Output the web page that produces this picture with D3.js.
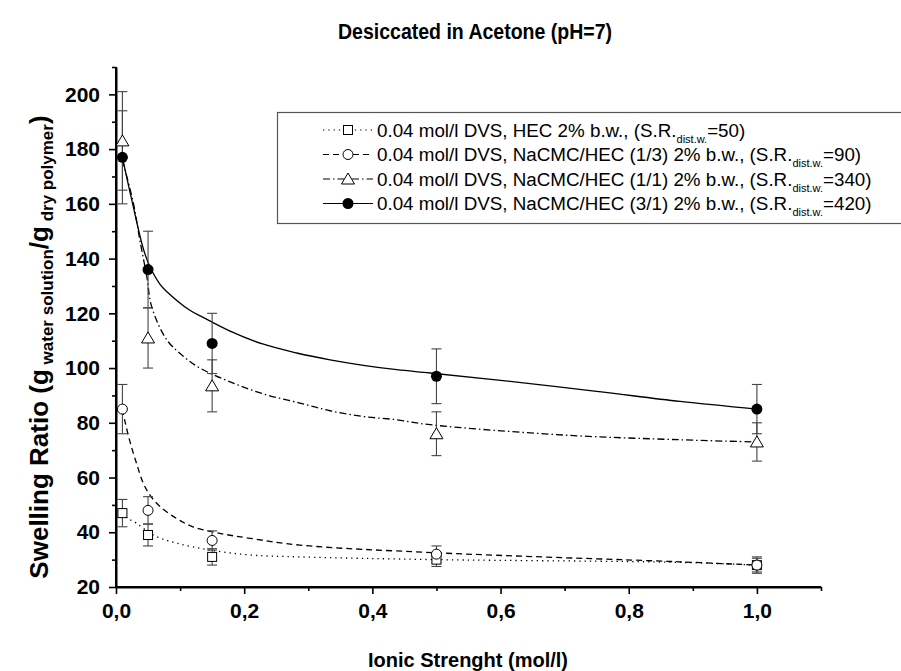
<!DOCTYPE html>
<html><head><meta charset="utf-8">
<script src="https://cdn.jsdelivr.net/npm/d3@7"></script>
<style>
body{margin:0;background:#fff}
svg{display:block}
text{font-family:"Liberation Sans",Arial,sans-serif}
</style>
</head><body>
<svg id="chart" width="901" height="671"></svg>
<script>
// ---- data ----
const ionicStrength = [0.01, 0.05, 0.15, 0.5, 1.0];
const hecValues   = [47, 39, 31, 30, 28];
const hecErrors   = [5, 4, 3, 2.5, 2.5];
const c13Values   = [85, 48, 37, 32, 28];
const c13Errors   = [9, 5, 3.5, 3, 3];
const c11Values   = [183, 111, 93.5, 76, 73];
const c11Errors   = [18, 11, 9.5, 8, 7];
const c31Values   = [177, 136, 109, 97, 85];
const c31Errors   = [17, 14, 11, 10, 9];

// fitted curves
const fitHecX = [0.01, 0.019, 0.032, 0.058, 0.0946, 0.147, 0.209, 0.287, 0.5, 0.88, 1.0];
const fitHecY = [47, 45, 43.3, 39, 36, 33.5, 31.7, 31, 30, 29, 28];
const fitC13X = [0.01, 0.014, 0.0218, 0.032, 0.0426, 0.053, 0.0686, 0.0946, 0.12, 0.162, 0.209, 0.287, 0.5, 0.88, 1.0];
const fitC13Y = [85, 80.5, 73.1, 65.2, 57.9, 53.6, 49.4, 45, 42, 39.6, 37.8, 35.3, 32.5, 29.2, 28];
const fitC11X = [0.01, 0.027, 0.037, 0.048, 0.0556, 0.079, 0.105, 0.131, 0.183, 0.235, 0.287, 0.334, 0.386, 0.438, 0.49, 0.7, 0.88, 1.0];
const fitC11Y = [176, 160.4, 147, 133.5, 122.5, 110.4, 104.3, 100, 94.5, 90.2, 87.2, 84.4, 82.3, 81.1, 79.3, 75.5, 73.8, 73];
const fitC31X = [0.01, 0.0244, 0.043, 0.053, 0.069, 0.079, 0.114, 0.136, 0.178, 0.23, 0.282, 0.334, 0.386, 0.438, 0.49, 0.6, 0.75, 0.88, 1.0];
const fitC31Y = [177, 161.6, 143.3, 137, 130.5, 128, 121.3, 118.5, 113.5, 108.7, 105.5, 103, 101, 99.4, 98.2, 95.5, 91.5, 87.8, 85];

const xTicks = [0, 0.2, 0.4, 0.6, 0.8, 1.0];
const xMinorTicks = [0.1, 0.3, 0.5, 0.7, 0.9, 1.1];
const yTicks = [20, 40, 60, 80, 100, 120, 140, 160, 180, 200];
const yMinorTicks = [30, 50, 70, 90, 110, 130, 150, 170, 190, 210];

const seriesNames = [
  "0.04 mol/l DVS, HEC 2% b.w., (S.R.",
  "0.04 mol/l DVS, NaCMC/HEC (1/3) 2% b.w., (S.R.",
  "0.04 mol/l DVS, NaCMC/HEC (1/1) 2% b.w., (S.R.",
  "0.04 mol/l DVS, NaCMC/HEC (3/1) 2% b.w., (S.R."
];
const seriesSR = ["=50)", "=90)", "=340)", "=420)"];

// ---- setup ----
const svg = d3.select("#chart");
const x = d3.scaleLinear().domain([0, 1.1]).range([116, 821]);
const y = d3.scaleLinear().domain([20, 210]).range([587, 67]);

const series = [
  {vals: hecValues, errs: hecErrors, fx: fitHecX, fy: fitHecY, dash: "1.3,4", marker: "square"},
  {vals: c13Values, errs: c13Errors, fx: fitC13X, fy: fitC13Y, dash: "6,4", marker: "circle"},
  {vals: c11Values, errs: c11Errors, fx: fitC11X, fy: fitC11Y, dash: "7,3,1.5,3", marker: "triangle"},
  {vals: c31Values, errs: c31Errors, fx: fitC31X, fy: fitC31Y, dash: null, marker: "filled"}
];

// title
svg.append("text").attr("x", 475).attr("y", 39).attr("text-anchor", "middle")
  .attr("textLength", 274).attr("lengthAdjust", "spacingAndGlyphs")
  .style("font-weight", "bold").style("font-size", "22px").text("Desiccated in Acetone (pH=7)");

// axes
const gx = svg.append("g").attr("transform", "translate(0,587)")
  .call(d3.axisBottom(x).tickValues(xTicks).tickSize(7).tickPadding(9).tickSizeOuter(0)
    .tickFormat(d => d3.format(".1f")(d).replace(".", ",")));
const gxm = svg.append("g").attr("transform", "translate(0,587)")
  .call(d3.axisBottom(x).tickValues(xMinorTicks).tickSize(4).tickFormat("").tickSizeOuter(0));
const gy = svg.append("g").attr("transform", "translate(116,0)")
  .call(d3.axisLeft(y).tickValues(yTicks).tickSize(7).tickPadding(9).tickSizeOuter(0));
const gym = svg.append("g").attr("transform", "translate(116,0)")
  .call(d3.axisLeft(y).tickValues(yMinorTicks).tickSize(4).tickFormat("").tickSizeOuter(0));
[gx, gxm, gy, gym].forEach(g => {
  g.selectAll(".domain").attr("stroke", "#000").attr("stroke-width", 2);
  g.selectAll(".tick line").attr("stroke", "#000").attr("stroke-width", 1.6);
  g.selectAll("text").style("font-size", "21px").style("font-weight", "bold")
    .style("font-family", "'Liberation Sans',Arial,sans-serif").attr("fill", "#000");
});
gx.select(".domain").attr("d", `M${x(0)},0H${x(1.1)}`);
gy.select(".domain").attr("d", `M0,${y(20)}V${y(210)}`);

// axis titles
svg.append("text").attr("x", 468).attr("y", 667).attr("text-anchor", "middle")
  .style("font-weight", "bold").style("font-size", "20px").text("Ionic Strenght (mol/l)");
const yl = svg.append("text").attr("transform", "translate(48,347) rotate(-90)")
  .attr("text-anchor", "middle").style("font-weight", "bold").style("font-size", "26px");
yl.append("tspan").text("Swelling Ratio (g");
yl.append("tspan").attr("dy", 5).style("font-size", "17px").text(" water solution");
yl.append("tspan").attr("dy", -5).text("/g");
yl.append("tspan").attr("dy", 5).style("font-size", "17px").text(" dry polymer");
yl.append("tspan").attr("dy", -5).text(")");

// fitted lines
const line = d3.line().x(d => x(d[0])).y(d => y(d[1])).curve(d3.curveCatmullRom.alpha(0.5));
series.forEach(s => {
  svg.append("path").datum(s.fx.map((v, i) => [v, s.fy[i]]))
    .attr("d", line).attr("fill", "none").attr("stroke", "#000").attr("stroke-width", 1.3)
    .attr("stroke-dasharray", s.dash);
});

// error bars
series.forEach(s => {
  const g = svg.append("g").attr("stroke", "#444").attr("stroke-width", 1.1);
  ionicStrength.forEach((xv, i) => {
    const cx = x(xv), y1 = y(s.vals[i] + s.errs[i]), y2 = y(s.vals[i] - s.errs[i]);
    g.append("line").attr("x1", cx).attr("x2", cx).attr("y1", y1).attr("y2", y2);
    g.append("line").attr("x1", cx - 5).attr("x2", cx + 5).attr("y1", y1).attr("y2", y1);
    g.append("line").attr("x1", cx - 5).attr("x2", cx + 5).attr("y1", y2).attr("y2", y2);
  });
});

function drawMarker(g, type, cx, cy) {
  if (type === "square") {
    g.append("rect").attr("x", cx - 4.5).attr("y", cy - 4.5).attr("width", 9).attr("height", 9)
      .attr("fill", "#fff").attr("stroke", "#000").attr("stroke-width", 1);
  } else if (type === "circle") {
    g.append("circle").attr("cx", cx).attr("cy", cy).attr("r", 5)
      .attr("fill", "#fff").attr("stroke", "#000").attr("stroke-width", 1);
  } else if (type === "triangle") {
    g.append("path").attr("d", `M${cx},${cy - 6}L${cx + 6.5},${cy + 5}L${cx - 6.5},${cy + 5}Z`)
      .attr("fill", "#fff").attr("stroke", "#000").attr("stroke-width", 1);
  } else {
    g.append("circle").attr("cx", cx).attr("cy", cy).attr("r", 5.5).attr("fill", "#000");
  }
}
series.forEach(s => {
  const g = svg.append("g");
  ionicStrength.forEach((xv, i) => drawMarker(g, s.marker, x(xv), y(s.vals[i])));
});

// legend
const lg = svg.append("g");
lg.append("rect").attr("x", 277.5).attr("y", 112.5).attr("width", 640).attr("height", 111)
  .attr("fill", "#fff").attr("stroke", "#555").attr("stroke-width", 1.2);
series.forEach((s, i) => {
  const ly = 130 + i * 24.5;
  lg.append("line").attr("x1", 323).attr("x2", 373).attr("y1", ly).attr("y2", ly)
    .attr("stroke", "#000").attr("stroke-width", 1.2).attr("stroke-dasharray", s.dash);
  drawMarker(lg, s.marker, 348, ly);
  const t = lg.append("text").attr("x", 377).attr("y", ly + 6.5).style("font-size", "18.8px");
  t.append("tspan").text(seriesNames[i]);
  t.append("tspan").attr("dy", 6).style("font-size", "11px").text("dist.w.");
  t.append("tspan").attr("dy", -6).text(seriesSR[i]);
});
</script>
</body></html>
